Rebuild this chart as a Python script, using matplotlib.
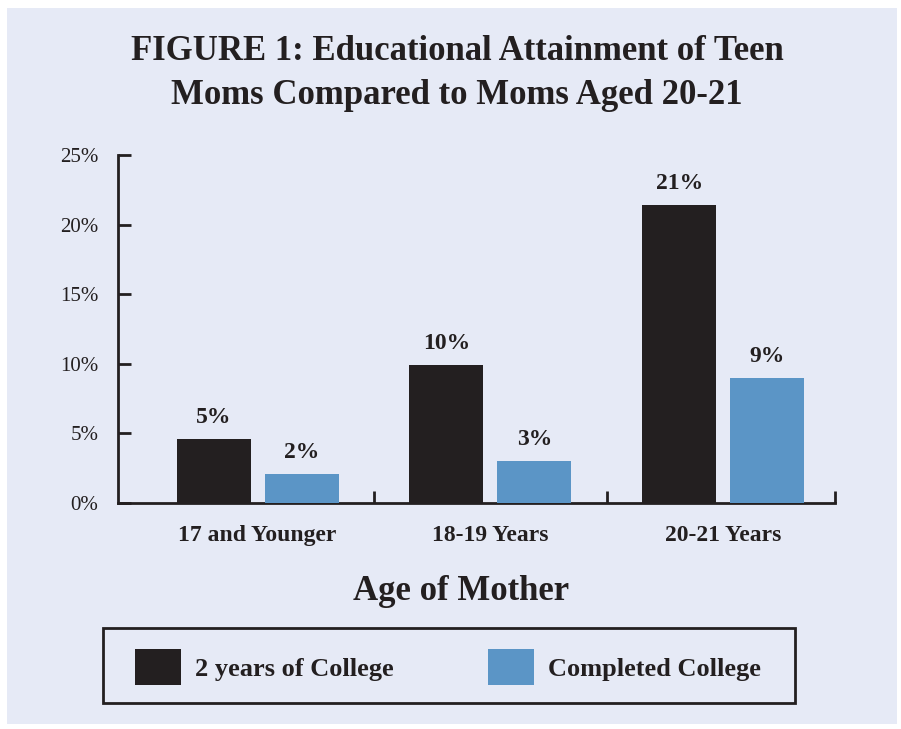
import numpy as np
import matplotlib.pyplot as plt
from matplotlib.patches import Rectangle, Patch

# ---------------------------------------------------------
# DATA
# ---------------------------------------------------------
age_groups = ['17 and Younger', '18-19 Years', '20-21 Years']
two_years = [4.6, 9.9, 21.4]          # % with 2 years of college
completed = [2.1, 3.0, 9.0]           # % completed college
two_years_labels = ['5%', '10%', '21%']
completed_labels = ['2%', '3%', '9%']
y_ticks = [0, 5, 10, 15, 20, 25]
y_tick_labels = ['0%', '5%', '10%', '15%', '20%', '25%']

# ---------------------------------------------------------
# STYLE
# ---------------------------------------------------------
dark = '#231f20'
blue = '#5b95c6'
panel = '#e6eaf6'
plt.rcParams['font.family'] = ['Liberation Serif', 'DejaVu Serif']

fig = plt.figure(figsize=(9.01, 7.29), dpi=100, facecolor='white')
W, H = 901, 729

# lavender panel behind everything
fig.add_artist(Rectangle((7 / W, 1 - 724 / H), 890 / W, 716 / H,
                         transform=fig.transFigure, facecolor=panel,
                         edgecolor='none', zorder=-10))

ax = fig.add_axes([118 / W, 1 - 503 / H, (835 - 118) / W, (503 - 155) / H])
ax.set_facecolor('none')

x = np.arange(len(age_groups))
w = 0.318
off = 0.189

b1 = ax.bar(x - off, two_years, w, color=dark, zorder=3)
b2 = ax.bar(x + off, completed, w, color=blue, zorder=3)

for bars, labs in [(b1, two_years_labels), (b2, completed_labels)]:
    for rect, lab in zip(bars, labs):
        ax.annotate(lab, (rect.get_x() + rect.get_width() / 2, rect.get_height()),
                    xytext=(0, 8), textcoords='offset points',
                    ha='center', va='bottom', fontsize=17, fontweight='bold',
                    color=dark)

ax.set_xlim(-0.6, 2.48)
ax.set_ylim(0, 25)

for s in ['top', 'right']:
    ax.spines[s].set_visible(False)
for s in ['left', 'bottom']:
    ax.spines[s].set_color(dark)
    ax.spines[s].set_linewidth(2)

ax.set_yticks(y_ticks)
ax.set_yticklabels(y_tick_labels, fontsize=15, color=dark)
ax.tick_params(axis='y', direction='in', length=9, width=2, color=dark, pad=14)

ax.set_xticks(x)
ax.set_xticklabels(age_groups, fontsize=17, fontweight='bold', color=dark)
ax.set_xticks([0.5, 1.5, 2.48], minor=True)
ax.tick_params(axis='x', which='major', length=0, pad=16)
ax.tick_params(axis='x', which='minor', direction='in', length=9, width=2,
               color=dark)

# title and axis title
fig.text(457 / W, 1 - 52 / H, 'FIGURE 1: Educational Attainment of Teen',
         ha='center', va='center', fontsize=25, fontweight='bold', color=dark)
fig.text(457 / W, 1 - 95 / H, 'Moms Compared to Moms Aged 20-21',
         ha='center', va='center', fontsize=25, fontweight='bold', color=dark)
fig.text(461 / W, 1 - 592 / H, 'Age of Mother', ha='center', va='center',
         fontsize=25, fontweight='bold', color=dark)

# legend with hand-drawn frame
fig.add_artist(Rectangle((103 / W, 1 - 703 / H), 692 / W, 75 / H,
                         transform=fig.transFigure, facecolor='none',
                         edgecolor=dark, linewidth=2))
handles = [Patch(facecolor=dark, label='2 years of College'),
           Patch(facecolor=blue, label='Completed College')]
fig.legend(handles=handles, loc='center', bbox_to_anchor=(448 / W, 1 - 667 / H),
           ncol=2, frameon=False, prop={'size': 19, 'weight': 'bold'},
           handlelength=1.74, handleheight=1.7, handletextpad=0.53,
           columnspacing=3.56, labelcolor=dark)

fig.savefig('out.png', dpi=100, facecolor='white')
